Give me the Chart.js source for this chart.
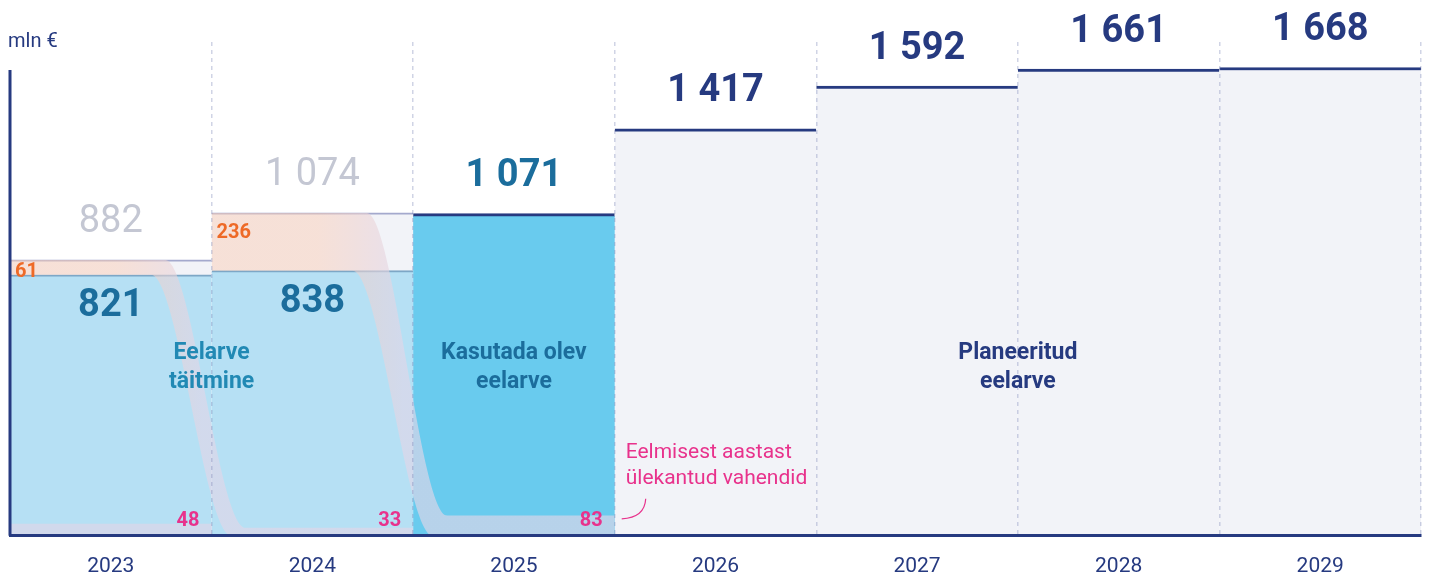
<!DOCTYPE html>
<html>
<head>
<meta charset="utf-8">
<script src="https://cdn.jsdelivr.net/npm/chart.js@4"></script>
<style>
    html, body { margin: 0; padding: 0; background: #fff; }
    #wrap { width: 1430px; height: 578px; position: relative; }
</style>
</head>
<body>
<div id="wrap"><canvas id="myChart"></canvas></div>
<script>
// ═══════════════════════════════════════
//  DATA (mln €)
// ═══════════════════════════════════════
const years = ['2023', '2024', '2025', '2026', '2027', '2028', '2029'];
const budgetTotal = [882, 1074, null, null, null, null, null];   // eelarve kokku
const executed    = [821, 838, null, null, null, null, null];    // eelarve täitmine
const unused      = [61, 236, null, null, null, null, null];     // kasutamata jääk
const usable      = [null, null, 1071, null, null, null, null];  // kasutada olev eelarve
const planned     = [null, null, null, 1417, 1592, 1661, 1668];  // planeeritud eelarve
const carryOver   = [48, 33, 83, null, null, null, null];        // eelmisest aastast ülekantud

const unitLabel = 'mln €';
const blocks = [
    { text: ['Eelarve', 'täitmine'], from: 0, to: 1, color: '#2189b4' },
    { text: ['Kasutada olev', 'eelarve'], from: 2, to: 2, color: '#1b6d9c' },
    { text: ['Planeeritud', 'eelarve'], from: 3, to: 6, color: '#263a80' }
];
const noteLines = ['Eelmisest aastast', 'ülekantud vahendid'];

// ═══════════════════════════════════════
//  STYLE
// ═══════════════════════════════════════
const NAVY = '#263a80';
const TEAL = '#1b6d9c';
const GREY_TXT = '#c4c7d3';
const ORANGE = '#ee6a27';
const PINK = '#e8328c';
const PALE = '#f2f3f8';
const RIBBON_ORANGE = 'rgba(251,206,183,0.5)';
const RIBBON_GREY = 'rgba(225,214,232,0.65)';
const Y_MIN = -245, Y_MAX = 1772;   // the reference is not drawn to scale from zero

const fmt = v => String(v).replace(/\B(?=(\d{3})+(?!\d))/g, ' ');
const span = v => v == null ? null : [Y_MIN, v];

function ribbonFill(chart, i) {
    const xs = chart.scales.xf;
    if (!xs || !chart.chartArea) return RIBBON_GREY;
    const g = chart.ctx.createLinearGradient(xs.getPixelForValue(i - 0.5), 0, xs.getPixelForValue(i + 0.45), 0);
    g.addColorStop(0, RIBBON_ORANGE);
    g.addColorStop(0.55, RIBBON_ORANGE);
    g.addColorStop(1, RIBBON_GREY);
    return g;
}

// unused money of year i flows down into the carried-over band of year i+1
function ribbon(i) {
    const carried = Y_MIN + carryOver[i + 1];
    const common = { type: 'line', xAxisID: 'xf', yAxisID: 'y', pointRadius: 0, borderWidth: 0,
        borderColor: 'transparent', cubicInterpolationMode: 'monotone', order: 2 };
    return [
        { ...common, fill: '+1', backgroundColor: ctx => ribbonFill(ctx.chart, i),
          data: [{ x: i - 0.5, y: budgetTotal[i] }, { x: i + 0.27, y: budgetTotal[i] },
                 { x: i + 0.67, y: carried }, { x: i + 1.5, y: carried }] },
        { ...common, fill: false, backgroundColor: 'transparent',
          data: [{ x: i - 0.5, y: executed[i] }, { x: i + 0.2, y: executed[i] },
                 { x: i + 0.6, y: Y_MIN }, { x: i + 1.5, y: Y_MIN }] }
    ];
}

const barBase = { grouped: false, categoryPercentage: 1, barPercentage: 1, borderSkipped: false };

const labelPlugin = {
    id: 'labels',
    afterDraw(chart) {
        const { ctx, chartArea: a } = chart;
        const xs = chart.scales.x;
        const w = xs.width / years.length;
        const bars = k => chart.getDatasetMeta(k).data;
        const text = (t, x, y, font, color, align = 'center') => {
            ctx.font = font; ctx.fillStyle = color; ctx.textAlign = align; ctx.fillText(t, x, y);
        };
        ctx.save();
        ctx.textBaseline = 'middle';

        // left axis line, shorter than the plot area
        ctx.strokeStyle = NAVY; ctx.lineWidth = 3;
        ctx.beginPath(); ctx.moveTo(a.left, a.top + 28); ctx.lineTo(a.left, a.bottom); ctx.stroke();
        text(unitLabel, a.left - 2, a.top, '20px Roboto', NAVY, 'left');

        budgetTotal.forEach((v, i) => { if (v != null) text(fmt(v), bars(0)[i].x, bars(0)[i].y - 37, '400 38px Roboto', GREY_TXT); });
        executed.forEach((v, i) => { if (v != null) text(fmt(v), bars(1)[i].x, bars(1)[i].y + 32, '700 38px Roboto', TEAL); });
        usable.forEach((v, i) => { if (v != null) text(fmt(v), bars(2)[i].x, bars(2)[i].y - 37, '700 38px Roboto', TEAL); });
        planned.forEach((v, i) => { if (v != null) text(fmt(v), bars(3)[i].x, bars(3)[i].y - 37, '700 38px Roboto', NAVY); });

        unused.forEach((v, i) => {
            if (v == null) return;
            const top = bars(0)[i].y, low = bars(1)[i].y;
            text(String(v), xs.getPixelForValue(i) - w / 2 + 5, top + Math.min(20, (low - top) * 0.8), '700 20px Roboto', ORANGE, 'left');
        });
        carryOver.forEach((v, i) => {
            if (v != null) text(String(v), xs.getPixelForValue(i) + w / 2 - 12, a.bottom - 15, '700 20px Roboto', PINK, 'right');
        });

        blocks.forEach(b => {
            const cx = (xs.getPixelForValue(b.from) + xs.getPixelForValue(b.to)) / 2;
            b.text.forEach((t, k) => text(t, cx, a.bottom - 183 + k * 29, '700 23px Roboto', b.color));
        });

        // note for carried-over money
        const r = xs.getPixelForValue(2) + w / 2;
        noteLines.forEach((t, k) => text(t, r + 11, a.bottom - 83 + k * 26, '400 21px Roboto', PINK, 'left'));
        ctx.strokeStyle = PINK; ctx.lineWidth = 1.2;
        ctx.beginPath();
        ctx.moveTo(r + 7, a.bottom - 17);
        ctx.quadraticCurveTo(r + 30, a.bottom - 18, r + 31, a.bottom - 37);
        ctx.stroke();
        ctx.restore();
    }
};

const ctx = document.getElementById('myChart').getContext('2d');
new Chart(ctx, {
    type: 'bar',
    data: {
        labels: years,
        datasets: [
            { ...barBase, data: budgetTotal.map(span), backgroundColor: PALE, borderColor: '#a4a9cd',
              borderWidth: { top: 2, left: 0, right: 0, bottom: 0 }, order: 10 },
            { ...barBase, data: executed.map(span), backgroundColor: '#b6e0f4', borderColor: '#7da7c6',
              borderWidth: { top: 2, left: 0, right: 0, bottom: 0 }, order: 9 },
            { ...barBase, data: usable.map(span), backgroundColor: '#69cbee', borderColor: NAVY,
              borderWidth: { top: 3, left: 0, right: 0, bottom: 0 }, order: 9 },
            { ...barBase, data: planned.map(span), backgroundColor: PALE, borderColor: NAVY,
              borderWidth: { top: 3, left: 0, right: 0, bottom: 0 }, order: 9 },
            { ...barBase, data: carryOver.map((v, i) => i === 0 ? [Y_MIN, Y_MIN + v] : null),
              backgroundColor: RIBBON_GREY, borderWidth: 0, order: 8 },
            ...ribbon(0),
            ...ribbon(1)
        ]
    },
    options: {
        responsive: true,
        maintainAspectRatio: false,
        animation: false,
        layout: { padding: { top: 42, left: 10, right: 9, bottom: -19 } },
        plugins: { legend: { display: false }, tooltip: { enabled: false } },
        scales: {
            x: {
                type: 'category',
                offset: true,
                grid: { offset: true, drawTicks: false, lineWidth: 1.5, z: 1,
                        color: c => c.index === 0 ? 'transparent' : 'rgba(110,120,175,0.32)' },
                border: { display: true, color: NAVY, width: 3, dash: [4, 4], z: 2 },
                ticks: { color: NAVY, font: { family: 'Roboto', size: 21 }, padding: 18 }
            },
            xf: { type: 'linear', min: -0.5, max: 6.5, offset: false, display: false,
                  grid: { offset: false } },
            y: { type: 'linear', min: Y_MIN, max: Y_MAX, display: false }
        }
    },
    plugins: [labelPlugin]
});
</script>
</body>
</html>
